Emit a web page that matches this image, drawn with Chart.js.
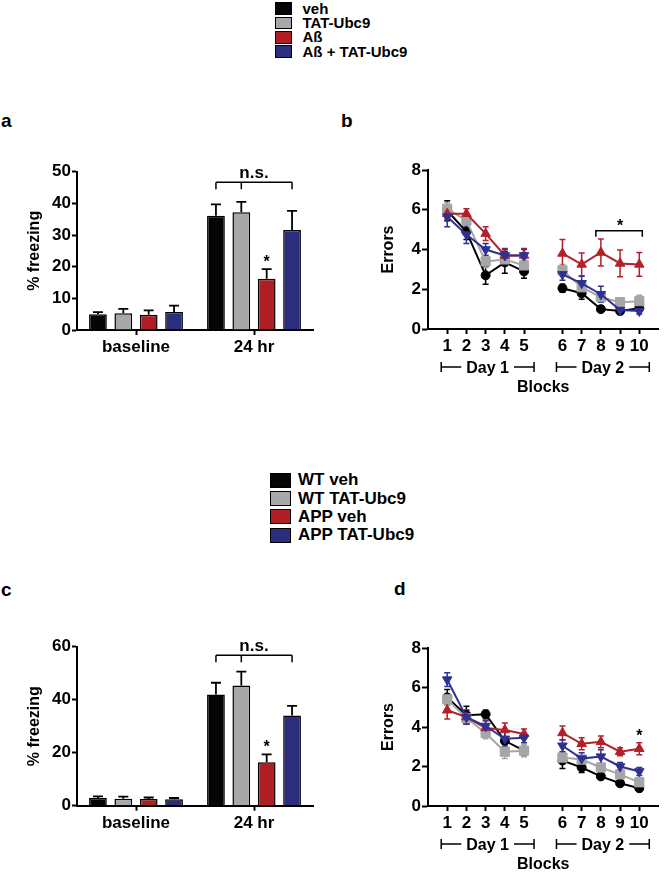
<!DOCTYPE html>
<html><head><meta charset="utf-8">
<script src="https://cdn.jsdelivr.net/npm/chart.js@4.4.1/dist/chart.umd.min.js"></script>
<style>
html,body{margin:0;padding:0;background:#fff;}
body{width:666px;height:878px;position:relative;overflow:hidden;font-family:"Liberation Sans",Arial,sans-serif;font-weight:bold;color:#000;}
canvas{position:absolute;display:block;}
.letter{position:absolute;font-size:19px;font-weight:bold;line-height:19px;}
.legend{position:absolute;left:0;top:0;width:666px;}
.legend .sw{position:absolute;border:1px solid #000;box-sizing:border-box;}
.legend .tx{position:absolute;font-weight:bold;white-space:nowrap;}
</style>
</head><body>
<div id="leg1" class="legend"></div>
<div id="leg2" class="legend"></div>
<div class="letter" style="left:1px;top:111px">a</div>
<div class="letter" style="left:341px;top:111px">b</div>
<div class="letter" style="left:1px;top:580px">c</div>
<div class="letter" style="left:394px;top:579px">d</div>
<canvas id="ca" width="333" height="300" style="left:0;top:100px"></canvas>
<canvas id="cb" width="333" height="300" style="left:333px;top:100px"></canvas>
<canvas id="cc" width="333" height="298" style="left:0;top:580px"></canvas>
<canvas id="cd" width="333" height="298" style="left:333px;top:580px"></canvas>
<script>
// ---------- data ----------
const groups = ['baseline', '24 hr'];
const namesAB = ['veh', 'TAT-Ubc9', 'Aß', 'Aß + TAT-Ubc9'];
const namesCD = ['WT veh', 'WT TAT-Ubc9', 'APP veh', 'APP TAT-Ubc9'];

// panel a: % freezing (mean, SEM)
const aVeh = [5.0, 36.1], aTat = [5.3, 37.2], aAb = [4.8, 16.2], aAbTat = [5.7, 31.6];
const aVehErr = [0.65, 3.6], aTatErr = [1.4, 3.3], aAbErr = [1.4, 3.0], aAbTatErr = [2.0, 6.0];

// panel c: % freezing (mean, SEM)
const cWtVeh = [2.9, 42.0], cWtTat = [2.6, 45.4], cAppVeh = [2.5, 16.4], cAppTat = [2.4, 34.0];
const cWtVehErr = [0.6, 4.4], cWtTatErr = [0.8, 5.2], cAppVehErr = [0.6, 3.0], cAppTatErr = [0.5, 3.7];

// panels b, d: errors per block
const blocks = ['1','2','3','4','5','6','7','8','9','10'];
const days = ['Day 1', 'Day 2'];

const bVeh     = [5.95, 4.9, 2.7, 3.35, 2.9, 2.05, 1.8, 1.0, 0.9, 1.05];
const bVehErr  = [0.5, 0.4, 0.45, 0.55, 0.35, 0.2, 0.3, 0.15, 0.15, 0.15];
const bTat     = [6.05, 5.45, 3.4, 3.5, 3.2, 2.95, 2.1, 1.6, 1.35, 1.4];
const bTatErr  = [0.3, 0.3, 0.3, 0.3, 0.3, 0.3, 0.3, 0.25, 0.2, 0.3];
const bAb      = [5.8, 5.8, 4.8, 3.7, 3.7, 3.8, 3.25, 3.85, 3.3, 3.25];
const bAbErr   = [0.25, 0.25, 0.35, 0.35, 0.35, 0.7, 0.58, 0.68, 0.67, 0.6];
const bAbTat   = [5.65, 4.75, 4.0, 3.7, 3.7, 2.75, 2.3, 1.75, 0.95, 0.9];
const bAbTatErr= [0.5, 0.45, 0.3, 0.3, 0.3, 0.3, 0.35, 0.4, 0.2, 0.15];

const dWtVeh     = [5.5, 4.6, 4.65, 3.3, 2.8, 2.3, 1.95, 1.5, 1.15, 0.9];
const dWtVehErr  = [0.4, 0.45, 0.2, 0.2, 0.2, 0.4, 0.25, 0.15, 0.15, 0.1];
const dWtTat     = [5.4, 4.45, 3.7, 2.75, 2.8, 2.45, 2.35, 1.95, 1.6, 1.2];
const dWtTatErr  = [0.3, 0.3, 0.3, 0.35, 0.3, 0.25, 0.2, 0.2, 0.2, 0.2];
const dAppVeh    = [4.85, 4.5, 3.95, 3.85, 3.65, 3.7, 3.15, 3.25, 2.75, 2.9];
const dAppVehErr = [0.45, 0.35, 0.35, 0.35, 0.25, 0.35, 0.3, 0.3, 0.2, 0.3];
const dAppTat    = [6.4, 4.5, 4.05, 3.4, 3.45, 3.05, 2.4, 2.5, 2.0, 1.75];
const dAppTatErr = [0.35, 0.35, 0.3, 0.4, 0.25, 0.3, 0.3, 0.35, 0.2, 0.2];

// ---------- styles ----------
const FONT = '"Liberation Sans", Arial, sans-serif';
const barColors = ['#050505', '#a7a8aa', '#ae1f25', '#2b2d7e'];
const lineColors = ['#000000', '#a6a6a6', '#b3202a', '#2e3192'];
const pointStyles = ['circle', 'rect', 'triangle', 'triangle'];
const pointRadii = [4.5, 6.5, 5.5, 5.5];
const pointRot = [0, 0, 0, 180];
const drawOrder = [3, 2, 1, 0];

Chart.defaults.font.family = FONT;
Chart.defaults.font.weight = 'bold';
Chart.defaults.color = '#000';

// ---------- legends (HTML) ----------
function buildLegend(el, names, o) {
  names.forEach((n, i) => {
    const cy = o.y0 + i * o.dy;
    const sw = document.createElement('div');
    sw.className = 'sw';
    Object.assign(sw.style, {left: o.sx + 'px', top: (cy - o.sh / 2) + 'px', width: o.sw + 'px', height: o.sh + 'px', background: barColors[i]});
    const tx = document.createElement('div');
    tx.className = 'tx';
    tx.textContent = n;
    Object.assign(tx.style, {left: o.tx + 'px', top: (cy - o.fs * 0.6) + 'px', fontSize: o.fs + 'px', lineHeight: (o.fs * 1.2) + 'px'});
    el.appendChild(sw); el.appendChild(tx);
  });
}
buildLegend(document.getElementById('leg1'), namesAB, {y0: 8.5, dy: 14.4, sx: 275, sw: 17, sh: 12.5, tx: 302.5, fs: 15});
buildLegend(document.getElementById('leg2'), namesCD, {y0: 480.5, dy: 18.2, sx: 270, sw: 21, sh: 15, tx: 298, fs: 17});

// ---------- bar charts ----------
function barChart(id, series, errs, names, yMax, yStep, padTop, xH, nsVal) {
  const annot = {
    id: 'annot',
    afterDatasetsDraw(chart) {
      const ctx = chart.ctx, y = chart.scales.y;
      ctx.save();
      ctx.strokeStyle = '#000'; ctx.lineWidth = 1.8;
      chart.data.datasets.forEach((ds, i) => {
        const meta = chart.getDatasetMeta(i);
        ds.data.forEach((v, j) => {
          const el = meta.data[j];
          const ye = y.getPixelForValue(v + ds.errors[j]);
          ctx.beginPath();
          ctx.moveTo(el.x, el.y); ctx.lineTo(el.x, ye);
          ctx.moveTo(el.x - 5, ye); ctx.lineTo(el.x + 5, ye);
          ctx.stroke();
        });
      });
      // n.s. bracket over 24 hr group
      const xs = [0, 1, 3].map(i => chart.getDatasetMeta(i).data[1].x);
      const by = y.getPixelForValue(nsVal);
      ctx.lineWidth = 1.5;
      ctx.beginPath();
      ctx.moveTo(xs[0], by); ctx.lineTo(xs[2], by);
      xs.forEach(x => { ctx.moveTo(x, by); ctx.lineTo(x, by + 7); });
      ctx.stroke();
      ctx.fillStyle = '#000';
      ctx.textAlign = 'center'; ctx.textBaseline = 'alphabetic';
      ctx.font = 'bold 17px ' + FONT;
      ctx.fillText('n.s.', chart.scales.x.getPixelForValue(1), by - 4);
      // star over third series at 24 hr
      const ds = chart.data.datasets[2];
      ctx.font = 'bold 16px ' + FONT;
      ctx.fillText('*', chart.getDatasetMeta(2).data[1].x, y.getPixelForValue(ds.data[1] + ds.errors[1]) - 2);
      ctx.restore();
    }
  };
  return new Chart(document.getElementById(id), {
    type: 'bar',
    data: {
      labels: groups,
      datasets: series.map((s, i) => ({
        label: names[i], data: s, errors: errs[i],
        backgroundColor: barColors[i], borderColor: '#000', borderWidth: 1.5,
        categoryPercentage: 0.86, barPercentage: 0.7
      }))
    },
    options: {
      responsive: false, animation: false, events: [],
      layout: {padding: {top: padTop, right: 20, left: 0, bottom: 0}},
      plugins: {legend: {display: false}, tooltip: {enabled: false}},
      scales: {
        x: {
          grid: {drawOnChartArea: false, offset: false, tickLength: 5, tickWidth: 2, tickColor: '#000'},
          border: {color: '#000', width: 2},
          ticks: {font: {size: 17, weight: 'bold'}, color: '#000', padding: 2, maxRotation: 0},
          afterFit(s) { s.height = xH; }
        },
        y: {
          min: 0, max: yMax,
          ticks: {stepSize: yStep, font: {size: 17, weight: 'bold'}, color: '#000', padding: 1},
          grid: {drawOnChartArea: false, tickLength: 5, tickWidth: 2, tickColor: '#000'},
          border: {color: '#000', width: 2},
          title: {display: true, text: '% freezing', font: {size: 16, weight: 'bold'}, color: '#000', padding: {top: 25.4, bottom: 0}},
          afterFit(s) { s.width = 77; }
        }
      }
    },
    plugins: [annot]
  });
}

barChart('ca', [aVeh, aTat, aAb, aAbTat], [aVehErr, aTatErr, aAbErr, aAbTatErr], namesAB, 50, 10, 71.7, 70, 46.7);
barChart('cc', [cWtVeh, cWtTat, cAppVeh, cAppTat], [cWtVehErr, cWtTatErr, cAppVehErr, cAppTatErr], namesCD, 60, 20, 66.7, 72.3, 56.8);

// ---------- line charts ----------
const lineLabels = ['', ...blocks.slice(0, 5), '', ...blocks.slice(5), ''];
const pad = a => [null, ...a.slice(0, 5), null, ...a.slice(5), null];

function lineChart(id, series, errs, names, padTop, xH, titleB, annotFn) {
  const plug = {
    id: 'extras',
    beforeDatasetsDraw(chart) {
      const ctx = chart.ctx, y = chart.scales.y;
      chart.data.datasets.forEach((ds, i) => {
        const meta = chart.getDatasetMeta(i);
        ctx.save();
        ctx.strokeStyle = ds.borderColor; ctx.lineWidth = 1.5;
        ds.data.forEach((v, j) => {
          if (v == null) return;
          const x = meta.data[j].x, e = ds.errors[j];
          const y1 = y.getPixelForValue(v + e), y2 = y.getPixelForValue(v - e);
          ctx.beginPath();
          ctx.moveTo(x, y1); ctx.lineTo(x, y2);
          ctx.moveTo(x - 3, y1); ctx.lineTo(x + 3, y1);
          ctx.moveTo(x - 3, y2); ctx.lineTo(x + 3, y2);
          ctx.stroke();
        });
        ctx.restore();
      });
    },
    afterDraw(chart) {
      const ctx = chart.ctx, xs = chart.scales.x;
      const yb = chart.chartArea.bottom + 38;
      ctx.save();
      ctx.strokeStyle = '#000'; ctx.fillStyle = '#000'; ctx.lineWidth = 1.5;
      ctx.font = 'bold 16px ' + FONT;
      ctx.textAlign = 'center'; ctx.textBaseline = 'alphabetic';
      const ranges = [[blocks[0], blocks[4]], [blocks[5], blocks[9]]];
      ranges.forEach((r, k) => {
        const x1 = xs.getPixelForValue(lineLabels.indexOf(r[0])) - 6;
        const x2 = xs.getPixelForValue(lineLabels.indexOf(r[1])) + 10;
        const cx = (x1 + x2) / 2, w = ctx.measureText(days[k]).width;
        ctx.beginPath();
        ctx.moveTo(x1, yb); ctx.lineTo(cx - w / 2 - 5, yb);
        ctx.moveTo(cx + w / 2 + 5, yb); ctx.lineTo(x2, yb);
        ctx.moveTo(x1, yb - 5); ctx.lineTo(x1, yb + 5);
        ctx.moveTo(x2, yb - 5); ctx.lineTo(x2, yb + 5);
        ctx.stroke();
        ctx.fillText(days[k], cx, yb + 5.5);
      });
      annotFn(chart, ctx);
      ctx.restore();
    }
  };
  return new Chart(document.getElementById(id), {
    type: 'line',
    data: {
      labels: lineLabels,
      datasets: series.map((s, i) => ({
        label: names[i], data: pad(s), errors: pad(errs[i]), order: drawOrder[i],
        borderColor: lineColors[i], backgroundColor: lineColors[i], borderWidth: 2,
        pointStyle: pointStyles[i], pointRadius: pointRadii[i], pointRotation: pointRot[i],
        pointBackgroundColor: lineColors[i], pointBorderColor: lineColors[i], pointBorderWidth: 1,
        spanGaps: false, tension: 0
      }))
    },
    options: {
      responsive: false, animation: false, events: [],
      layout: {padding: {top: padTop, right: 1, left: 0, bottom: 0}},
      plugins: {legend: {display: false}, tooltip: {enabled: false}},
      scales: {
        x: {
          offset: false,
          grid: {drawOnChartArea: false, tickLength: 5, tickWidth: 2,
                 tickColor: c => lineLabels[c.index] ? '#000' : 'rgba(0,0,0,0)'},
          border: {color: '#000', width: 2},
          ticks: {font: {size: 17, weight: 'bold'}, color: '#000', padding: 2, autoSkip: false, maxRotation: 0},
          title: {display: true, text: 'Blocks', font: {size: 16, weight: 'bold'}, color: '#000', padding: {top: 0, bottom: titleB}},
          afterFit(s) { s.height = xH; }
        },
        y: {
          min: 0, max: 8,
          ticks: {stepSize: 2, font: {size: 17, weight: 'bold'}, color: '#000', padding: 1},
          grid: {drawOnChartArea: false, tickLength: 6, tickWidth: 2, tickColor: '#000'},
          border: {color: '#000', width: 2},
          title: {display: true, text: 'Errors', font: {size: 16, weight: 'bold'}, color: '#000', padding: {top: 46, bottom: 0}},
          afterFit(s) { s.width = 95; }
        }
      }
    },
    plugins: [plug]
  });
}

lineChart('cb', [bVeh, bTat, bAb, bAbTat], [bVehErr, bTatErr, bAbErr, bAbTatErr], namesAB, 70, 71, 2.7,
  (chart, ctx) => {
    const xs = chart.scales.x, y = chart.scales.y;
    const x1 = xs.getPixelForValue(lineLabels.indexOf('8')) - 5;
    const x2 = xs.getPixelForValue(lineLabels.indexOf('10')) + 3;
    const by = y.getPixelForValue(4.94);
    ctx.beginPath();
    ctx.moveTo(x1, by + 6); ctx.lineTo(x1, by); ctx.lineTo(x2, by); ctx.lineTo(x2, by + 6);
    ctx.stroke();
    ctx.fillText('*', xs.getPixelForValue(lineLabels.indexOf('9')), by);
  });

lineChart('cd', [dWtVeh, dWtTat, dAppVeh, dAppTat], [dWtVehErr, dWtTatErr, dAppVehErr, dAppTatErr], namesCD, 68, 72, 3.4,
  (chart, ctx) => {
    const xs = chart.scales.x, y = chart.scales.y;
    const ds = chart.data.datasets[2], j = lineLabels.indexOf('10');
    ctx.fillText('*', xs.getPixelForValue(j), y.getPixelForValue(ds.data[j] + ds.errors[j]) - 2);
  });
</script>
</body></html>
